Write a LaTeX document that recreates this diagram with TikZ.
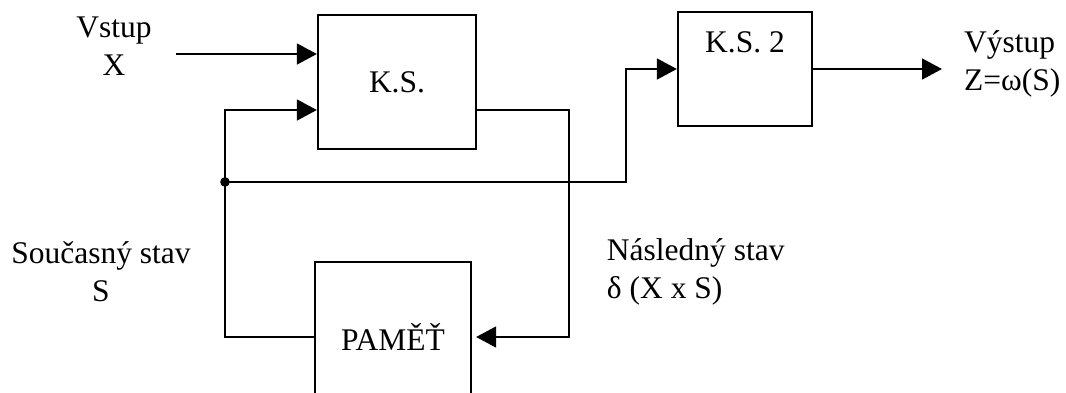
\documentclass[tikz,border=0pt]{standalone}
\usepackage{fontspec}
\setmainfont{Liberation Serif}
\usepackage{tikz}
\usetikzlibrary{arrows.meta,calc}

\begin{document}
\begin{tikzpicture}[every node/.style={font=\fontsize{22.4}{27}\selectfont},
    box/.style={draw, line width=1.6pt, inner sep=0pt},
    arr/.style={line width=1.6pt, -{Triangle[length=5mm,width=5.2mm]}},
    wire/.style={line width=1.6pt}]
  \useasboundingbox (0,0) rectangle (26.65,9.8);
  % blocks
  \node[box, minimum width=3.95cm, minimum height=3.35cm] (ks) at (9.925,7.75) {K.S.};
  \node[box, minimum width=3.35cm, minimum height=2.85cm,
        label={[below=0.4cm, font=\fontsize{22.4}{27}\selectfont]north:K.S. 2}] (ks2) at (18.625,8.075) {};
  \node[box, minimum width=3.9cm, minimum height=3.75cm] (pam) at (9.825,1.375) {PAMĚŤ};
  % labels
  \node[align=center] (vstup) at (2.85,8.65) {Vstup\\X};
  \node[align=left, anchor=west] (vystup) at (23.98,8.2) {Výstup\\Z=ω(S)};
  \node[align=center] (soucasny) at (2.525,3.0) {Současný stav\\S};
  \node[align=left, anchor=west] (nasledny) at (15.05,3.0) {Následný stav\\δ (X x S)};
  % connectors
  \coordinate (xin) at (4.4,8.45);
  \coordinate (split) at (5.625,5.25);
  \coordinate (riser) at (15.65,5.25);
  \coordinate (back) at (14.225,1.375);
  \coordinate (zout) at (23.55,8.075);
  \draw[arr] (xin) -- (xin -| ks.west);
  \draw[arr] (split) |- ([yshift=-0.7cm]ks.west);
  \draw[wire] (split) |- (pam.west);
  \draw[arr] (split) -- (riser) |- (ks2.west);
  \draw[arr] ([yshift=-0.7cm]ks.east) -| (back) -- ([xshift=0.1cm]pam.east);
  \draw[arr] (ks2.east) -- (zout);
  \fill (split) circle (0.12);
\end{tikzpicture}
\end{document}
